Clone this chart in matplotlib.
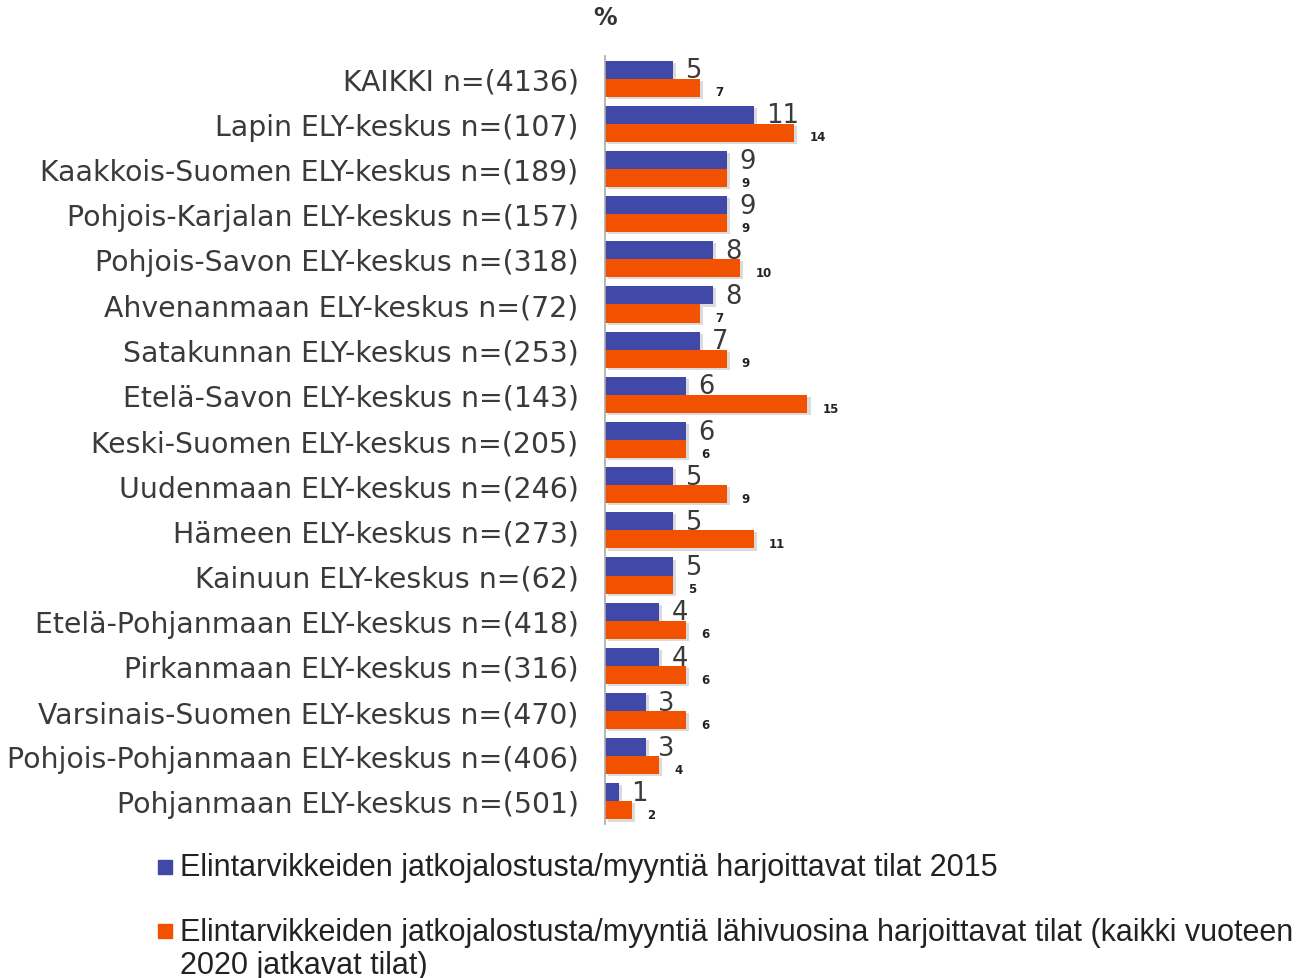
import matplotlib
matplotlib.use("Agg")
import matplotlib.pyplot as plt
from matplotlib.patches import Rectangle
import matplotlib.patheffects as pe
from matplotlib import font_manager

categories = [
    "KAIKKI n=(4136)",
    "Lapin ELY-keskus n=(107)",
    "Kaakkois-Suomen ELY-keskus n=(189)",
    "Pohjois-Karjalan ELY-keskus n=(157)",
    "Pohjois-Savon ELY-keskus n=(318)",
    "Ahvenanmaan ELY-keskus n=(72)",
    "Satakunnan ELY-keskus n=(253)",
    "Etelä-Savon ELY-keskus n=(143)",
    "Keski-Suomen ELY-keskus n=(205)",
    "Uudenmaan ELY-keskus n=(246)",
    "Hämeen ELY-keskus n=(273)",
    "Kainuun ELY-keskus n=(62)",
    "Etelä-Pohjanmaan ELY-keskus n=(418)",
    "Pirkanmaan ELY-keskus n=(316)",
    "Varsinais-Suomen ELY-keskus n=(470)",
    "Pohjois-Pohjanmaan ELY-keskus n=(406)",
    "Pohjanmaan ELY-keskus n=(501)",
]
values_2015 = [5, 11, 9, 9, 8, 8, 7, 6, 6, 5, 5, 5, 4, 4, 3, 3, 1]
values_future = [7, 14, 9, 9, 10, 7, 9, 15, 6, 9, 11, 5, 6, 6, 6, 4, 2]
legend_labels = [
    "Elintarvikkeiden jatkojalostusta/myyntiä harjoittavat tilat 2015",
    "Elintarvikkeiden jatkojalostusta/myyntiä lähivuosina harjoittavat tilat (kaikki vuoteen\n2020 jatkavat tilat)",
]

BLUE = "#4049A8"
ORANGE = "#F25200"

plt.rcParams["font.family"] = ["DejaVu Sans"]
names = {f.name for f in font_manager.fontManager.ttflist}
legend_font = "Liberation Sans Narrow" if "Liberation Sans Narrow" in names else "Liberation Sans"

W, H = 1307, 979
fig = plt.figure(figsize=(W / 100, H / 100), dpi=100)
ax_left = 605 / W
ax_top = 1 - 57 / H
ax_bottom = 1 - 825 / H
ax_w = 20 * 13.5 / W
ax = fig.add_axes([ax_left, ax_bottom, ax_w, ax_top - ax_bottom])

n = len(categories)
ys = list(range(n))
bh = 0.40
shadow = [pe.SimplePatchShadow(offset=(2.5, -1.5), shadow_rgbFace="#999999", alpha=0.35), pe.Normal()]
b1 = ax.barh([y - bh / 2 for y in ys], values_2015, height=bh, color=BLUE, path_effects=shadow)
b2 = ax.barh([y + bh / 2 for y in ys], values_future, height=bh, color=ORANGE, path_effects=shadow)

for y, v in zip(ys, values_2015):
    ax.annotate(str(v), (v, y - bh / 2), xytext=(9, -0.5), textcoords="offset points",
                ha="left", va="center", fontsize=18.5, color="#3a3a3a")
for y, v in zip(ys, values_future):
    ax.annotate(str(v), (v, y + bh / 2), xytext=(11, -3), textcoords="offset points",
                ha="left", va="center", fontsize=8.5, fontweight="bold", color="#222222")

ax.set_xlim(0, 20)
ax.set_ylim(n - 0.5, -0.5)
ax.set_yticks(ys)
ax.set_yticklabels(categories, fontsize=20.4, color="#3a3a3a")
ax.tick_params(axis="y", length=0, pad=19)
ax.set_xticks([])
for s in ["top", "right", "bottom"]:
    ax.spines[s].set_visible(False)
ax.spines["left"].set_color("#AAAAAA")
ax.spines["left"].set_linewidth(1.2)

fig.text(605 / W, 1 - 18 / H, "%", ha="center", va="center", fontsize=17, fontweight="bold", color="#333333")

# legend drawn manually
items = [(BLUE, 861, 869), (ORANGE, 925, 934)]
for (col, sq_top, ty), lab in zip(items, legend_labels):
    fig.add_artist(Rectangle((158 / W, 1 - (sq_top + 14) / H), 14 / W, 14 / H,
                             transform=fig.transFigure, color=col))
    fig.text(180 / W, 1 - (ty - 16) / H, lab, ha="left", va="top", fontsize=22,
             family=legend_font, color="#222222", linespacing=1.15)

fig.savefig("out.png", dpi=100)
